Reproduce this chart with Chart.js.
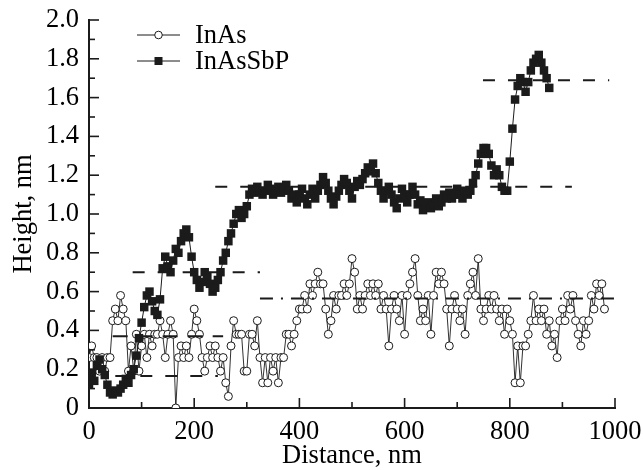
<!DOCTYPE html>
<html>
<head>
<meta charset="utf-8">
<script src="https://cdn.jsdelivr.net/npm/chart.js@4.4.1/dist/chart.umd.min.js"></script>
<style>
html,body{margin:0;padding:0;background:#fff;}
#c{display:block;}
.fontprobe{font-family:"Liberation Serif";position:absolute;left:-9999px;top:0;font-size:26px;}
</style>
</head>
<body>
<span class="fontprobe">InAs 0123456789 Distance, nm</span>
<canvas id="c" width="643" height="470"></canvas>
<script>
// ---- data ----
const sampleStepNm = 5; // profile sampling interval, nm

// InAs profile heights, nm (x = 0, 5, 10, ... nm)
const inAsHeights = [
  0.26,0.32,0.26,0.26,0.19,0.26,0.19,0.26,0.26,0.45,
  0.51,0.45,0.58,0.51,0.45,0.19,0.32,0.19,0.38,0.19,
  0.32,0.38,0.26,0.38,0.32,0.38,0.38,0.45,0.38,0.26,
  0.38,0.45,0.38,0.00,0.26,0.32,0.26,0.32,0.26,0.38,
  0.51,0.45,0.38,0.26,0.19,0.26,0.32,0.26,0.32,0.26,
  0.19,0.26,0.13,0.06,0.32,0.45,0.38,0.38,0.38,0.19,
  0.19,0.38,0.38,0.32,0.45,0.26,0.13,0.26,0.13,0.26,
  0.19,0.26,0.13,0.26,0.26,0.38,0.38,0.32,0.38,0.45,
  0.51,0.51,0.58,0.51,0.64,0.58,0.64,0.70,0.64,0.64,
  0.51,0.38,0.45,0.58,0.51,0.58,0.58,0.64,0.58,0.64,
  0.77,0.70,0.51,0.58,0.51,0.58,0.64,0.58,0.64,0.58,
  0.64,0.51,0.58,0.51,0.32,0.51,0.58,0.51,0.45,0.58,
  0.38,0.58,0.64,0.70,0.77,0.58,0.45,0.51,0.45,0.58,
  0.38,0.58,0.70,0.64,0.70,0.64,0.51,0.32,0.51,0.58,
  0.51,0.45,0.51,0.38,0.58,0.64,0.70,0.58,0.77,0.51,
  0.45,0.51,0.58,0.51,0.58,0.51,0.45,0.51,0.38,0.51,
  0.45,0.38,0.13,0.32,0.13,0.32,0.32,0.38,0.45,0.58,
  0.45,0.51,0.45,0.51,0.38,0.45,0.32,0.38,0.26,0.45,
  0.51,0.45,0.58,0.51,0.58,0.45,0.38,0.32,0.45,0.38,
  0.45,0.58,0.51,0.64,0.58,0.64,0.51
];

// InAsSbP profile heights, nm (x = 0, 5, 10, ... nm)
const inAsSbPHeights = [
  0.12,0.18,0.14,0.22,0.25,0.20,0.17,0.12,0.08,0.07,
  0.09,0.08,0.10,0.12,0.15,0.13,0.17,0.20,0.27,0.36,
  0.44,0.52,0.58,0.60,0.55,0.50,0.48,0.56,0.72,0.78,
  0.73,0.70,0.76,0.82,0.80,0.86,0.90,0.92,0.88,0.78,
  0.70,0.66,0.62,0.65,0.70,0.68,0.64,0.60,0.62,0.66,
  0.70,0.76,0.80,0.86,0.90,0.95,1.00,1.02,0.98,1.00,
  1.04,1.10,1.13,1.11,1.14,1.12,1.10,1.12,1.15,1.13,
  1.10,1.12,1.14,1.11,1.13,1.15,1.12,1.08,1.10,1.06,
  1.10,1.13,1.08,1.05,1.10,1.13,1.08,1.12,1.15,1.19,
  1.16,1.12,1.08,1.05,1.09,1.12,1.15,1.18,1.16,1.12,
  1.08,1.14,1.17,1.15,1.18,1.21,1.24,1.22,1.26,1.21,
  1.16,1.12,1.08,1.12,1.14,1.10,1.06,1.03,1.08,1.13,
  1.10,1.06,1.10,1.14,1.10,1.05,1.07,1.02,1.04,1.06,
  1.03,1.05,1.08,1.04,1.06,1.10,1.08,1.11,1.08,1.10,
  1.13,1.10,1.08,1.12,1.10,1.12,1.16,1.20,1.26,1.31,
  1.34,1.34,1.31,1.25,1.20,1.23,1.20,1.14,1.12,1.12,
  1.27,1.44,1.59,1.66,1.70,1.68,1.63,1.68,1.74,1.78,
  1.80,1.82,1.78,1.74,1.70,1.65
];

// step levels (dashed guide lines): height, start and end distance (nm)
const inAsSbPStepLevels = [0.70, 1.14, 1.69];
const inAsSbPStepStarts = [83, 240, 749];
const inAsSbPStepEnds   = [325, 918, 989];
const inAsStepLevels = [0.165, 0.37, 0.565];
const inAsStepStarts = [50, 45, 325];
const inAsStepEnds   = [245, 255, 1000];

const xTickValues = [0, 200, 400, 600, 800, 1000];
const xTickLabels = ['0', '200', '400', '600', '800', '1000'];
const yTickValues = [0, 0.2, 0.4, 0.6, 0.8, 1.0, 1.2, 1.4, 1.6, 1.8, 2.0];
const yTickLabels = ['0', '0.2', '0.4', '0.6', '0.8', '1.0', '1.2', '1.4', '1.6', '1.8', '2.0'];
const xMinorTicks = [0,100,200,300,400,500,600,700,800,900,1000];
const yMinorTicks = [0,0.1,0.2,0.3,0.4,0.5,0.6,0.7,0.8,0.9,1.0,1.1,1.2,1.3,1.4,1.5,1.6,1.7,1.8,1.9,2.0];

const seriesNames = ['InAs', 'InAsSbP'];
const xTitle = 'Distance, nm';
const yTitle = 'Height, nm';

// ---- build chart ----
const INK = '#1b1b1b';
const FONT = '"Liberation Serif", "DejaVu Serif", serif';
const FS = 26.5;
const PLOT = {left: 89, top: 20, right: 615, bottom: 408};
Chart.defaults.font.family = FONT;

const toPoints = arr => arr.map((v, i) => ({x: i * sampleStepNm, y: v}));

const stepDatasets = [];
inAsSbPStepLevels.forEach((lv, i) => {
  stepDatasets.push({
    label: 'step', type: 'line',
    data: [{x: inAsSbPStepStarts[i], y: lv}, {x: inAsSbPStepEnds[i], y: lv}],
    borderColor: INK, borderWidth: 2, borderDash: [12, 13],
    pointRadius: 0, fill: false
  });
});
inAsStepLevels.forEach((lv, i) => {
  stepDatasets.push({
    label: 'step', type: 'line',
    data: [{x: inAsStepStarts[i], y: lv}, {x: inAsStepEnds[i], y: lv}],
    borderColor: INK, borderWidth: 2,
    borderDash: i === 2 ? [13, 8, 2, 8] : (i === 1 ? [15, 10] : [12, 13]),
    pointRadius: 0, fill: false
  });
});

const inAsSbPSet = {
  label: seriesNames[1], type: 'line',
  data: toPoints(inAsSbPHeights),
  borderColor: INK, borderWidth: 1,
  pointStyle: 'rect', pointRadius: 6,
  pointBackgroundColor: INK, pointBorderColor: INK, pointBorderWidth: 0,
  fill: false, tension: 0
};
const inAsSet = {
  label: seriesNames[0], type: 'line',
  data: toPoints(inAsHeights),
  borderColor: INK, borderWidth: 0.9,
  pointStyle: 'circle', pointRadius: 4,
  pointBackgroundColor: '#ffffff', pointBorderColor: INK, pointBorderWidth: 1,
  fill: false, tension: 0
};

const decorPlugin = {
  id: 'decor',
  afterDraw(chart) {
    const ctx = chart.ctx;
    const xs = chart.scales.x, ys = chart.scales.y;
    const x0 = xs.getPixelForValue(0), y0 = ys.getPixelForValue(0);
    ctx.save();
    ctx.strokeStyle = INK;
    ctx.lineWidth = 1.6;
    // inward ticks
    xMinorTicks.forEach(v => {
      const px = xs.getPixelForValue(v);
      const len = (v % 200 === 0) ? 10 : 6;
      ctx.beginPath(); ctx.moveTo(px, y0); ctx.lineTo(px, y0 - len); ctx.stroke();
    });
    yMinorTicks.forEach((v, k) => {
      const py = ys.getPixelForValue(v);
      const len = (k % 2 === 0) ? 10 : 6;
      ctx.beginPath(); ctx.moveTo(x0, py); ctx.lineTo(x0 + len, py); ctx.stroke();
    });
    ctx.restore();

    // legend
    ctx.save();
    const items = [inAsSet, inAsSbPSet];
    const rowY = [35, 61];
    items.forEach((ds, i) => {
      const y = rowY[i];
      ctx.strokeStyle = INK; ctx.lineWidth = 1;
      ctx.beginPath(); ctx.moveTo(137, y); ctx.lineTo(180, y); ctx.stroke();
      if (ds.pointStyle === 'circle') {
        ctx.beginPath(); ctx.arc(158.5, y, 3.8, 0, Math.PI * 2);
        ctx.fillStyle = '#fff'; ctx.fill(); ctx.stroke();
      } else {
        ctx.fillStyle = INK; ctx.fillRect(154.5, y - 4, 8, 8);
      }
      ctx.fillStyle = '#000';
      ctx.font = FS + 'px ' + FONT;
      ctx.textAlign = 'left';
      ctx.textBaseline = 'middle';
      ctx.fillText(ds.label, 195, y + 1);
    });
    ctx.restore();
  }
};

function zeroPad(s) { s.paddingLeft = 0; s.paddingRight = 0; s.paddingTop = 0; s.paddingBottom = 0; }

const config = {
  type: 'line',
  data: { datasets: [...stepDatasets, inAsSbPSet, inAsSet] },
  options: {
    responsive: false,
    animation: false,
    events: [],
    layout: { padding: {left: 0, right: 643 - PLOT.right, top: PLOT.top, bottom: 0} },
    plugins: { legend: {display: false}, tooltip: {enabled: false} },
    scales: {
      x: {
        type: 'linear', min: 0, max: 1000,
        afterBuildTicks(s) { s.ticks = xTickValues.map(v => ({value: v})); },
        ticks: {
          color: '#000', font: {family: FONT, size: FS}, padding: 8,
          maxRotation: 0, autoSkip: false,
          callback: (v) => { const i = xTickValues.indexOf(v); return i >= 0 ? xTickLabels[i] : ''; }
        },
        grid: {display: false, drawTicks: false},
        border: {display: true, color: INK, width: 2},
        title: {display: true, text: xTitle, color: '#000', font: {family: FONT, size: FS}, padding: {top: 0, bottom: -2}},
        afterFit(s) { s.height = 470 - PLOT.bottom; zeroPad(s); }
      },
      y: {
        type: 'linear', min: 0, max: 2.0,
        afterBuildTicks(s) { s.ticks = yTickValues.map(v => ({value: v})); },
        ticks: {
          color: '#000', font: {family: FONT, size: FS}, padding: 10, autoSkip: false,
          callback: (v) => { const i = yTickValues.findIndex(t => Math.abs(t - v) < 1e-9); return i >= 0 ? yTickLabels[i] : ''; }
        },
        grid: {display: false, drawTicks: false},
        border: {display: true, color: INK, width: 2},
        title: {display: true, text: yTitle, color: '#000', font: {family: FONT, size: FS}, padding: {top: 8.6, bottom: 0}},
        afterFit(s) { s.width = PLOT.left; zeroPad(s); }
      }
    }
  },
  plugins: [decorPlugin]
};

const chart = new Chart(document.getElementById('c').getContext('2d'), config);
if (document.fonts && document.fonts.ready) {
  document.fonts.ready.then(() => chart.update());
}
</script>
</body>
</html>
